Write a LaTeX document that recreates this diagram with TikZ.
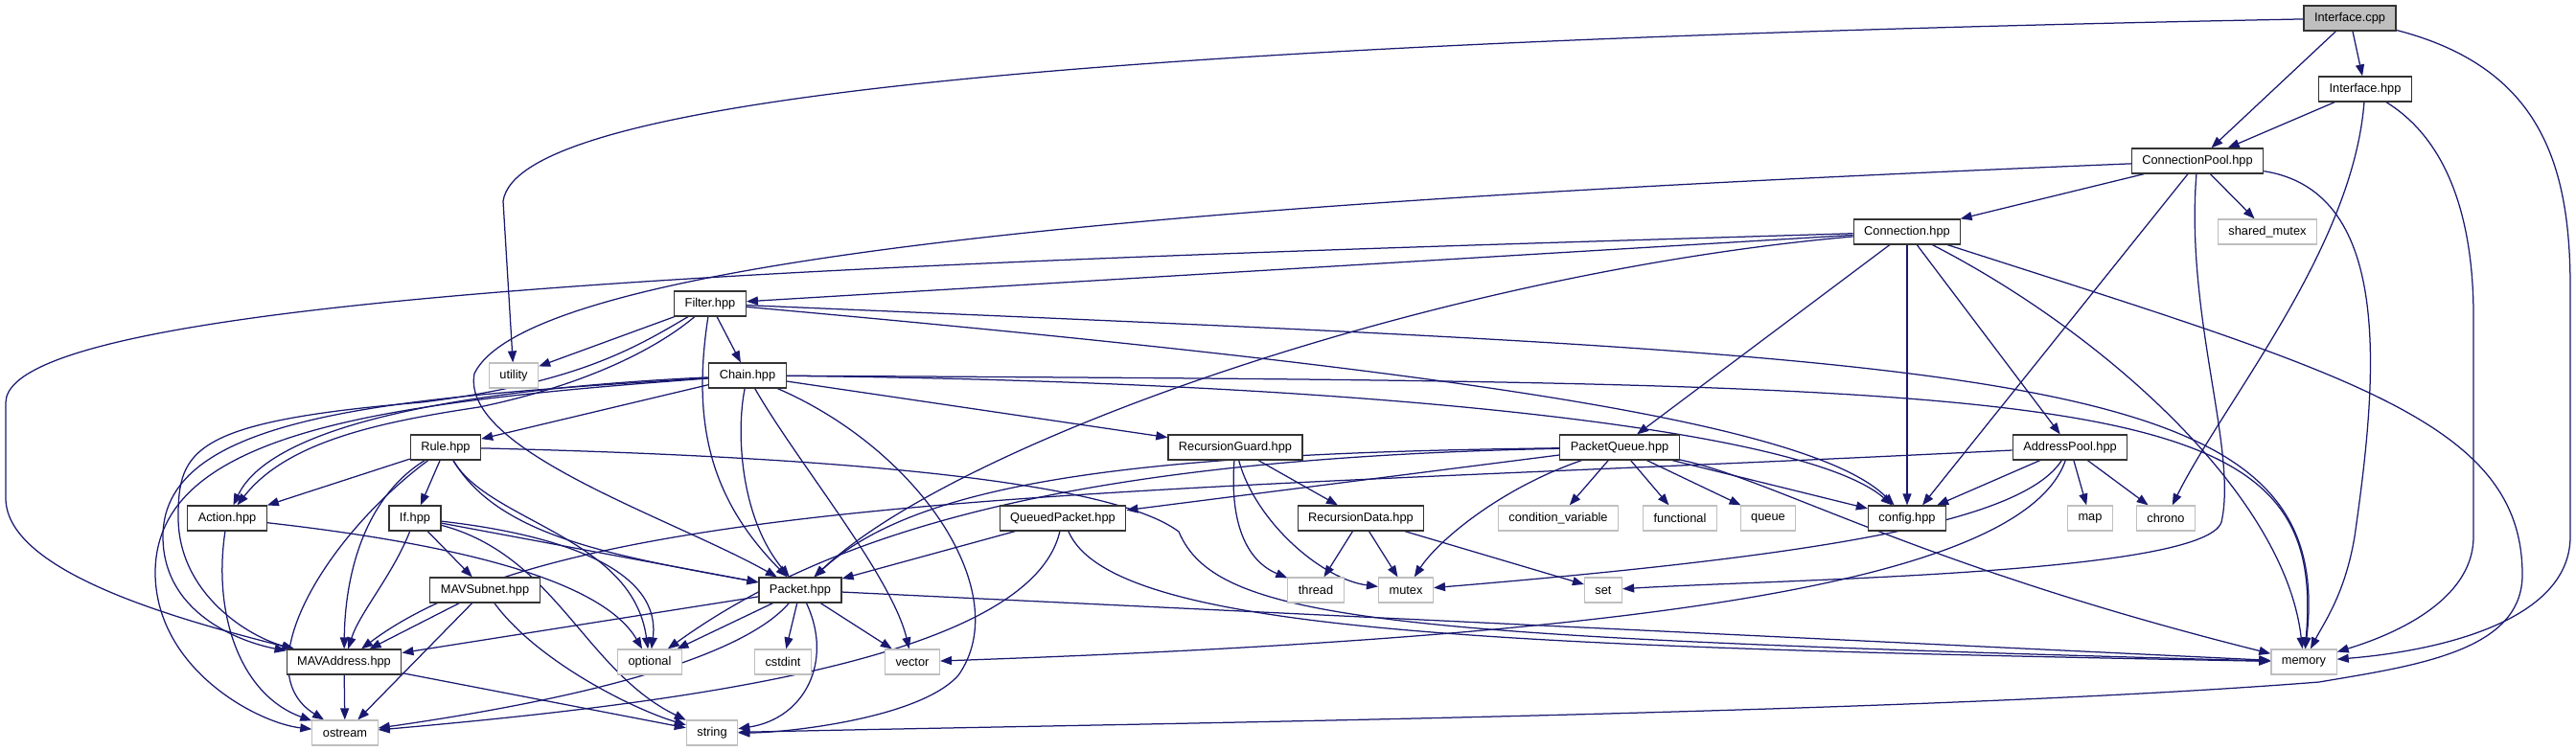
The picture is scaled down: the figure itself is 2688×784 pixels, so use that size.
\documentclass[tikz,border=0pt]{standalone}
\usepackage{fontspec}
\setsansfont{Liberation Sans}
\usepackage{tikz}
\usetikzlibrary{arrows.meta,backgrounds}
\definecolor{depblue}{HTML}{191970}
\definecolor{extgray}{HTML}{BFBFBF}

\begin{document}
\begin{tikzpicture}[
  x=1pt, y=-1pt,
  font=\sffamily\fontsize{12.8}{14}\selectfont,
  hdr/.style={
    rectangle, draw=black!80, fill=white, line width=1.2pt,
    minimum height=26pt, inner xsep=11pt, inner ysep=0pt
  },
  sys/.style={hdr, draw=extgray},
  root/.style={hdr, fill=extgray},
  dep/.style={-{Triangle[length=12pt,width=9pt]}, line width=1.25pt, depblue}
]
\useasboundingbox (0,0) rectangle (2688,784);

% --- project headers ---
\node[root] (cpp)       at (2452,19)  {Interface.cpp};
\node[hdr]  (ihpp)      at (2468,93)  {Interface.hpp};
\node[hdr]  (cpool)     at (2293,168) {ConnectionPool.hpp};
\node[hdr]  (conn)      at (1990,242) {Connection.hpp};
\node[hdr]  (filter)    at (741,317)  {Filter.hpp};
\node[hdr]  (chain)     at (780,392)  {Chain.hpp};
\node[hdr]  (rule)      at (465,467)  {Rule.hpp};
\node[hdr]  (rguard)    at (1289,467) {RecursionGuard.hpp};
\node[hdr]  (pqueue)    at (1690,467) {PacketQueue.hpp};
\node[hdr]  (apool)     at (2160,467) {AddressPool.hpp};
\node[hdr]  (action)    at (237,541)  {Action.hpp};
\node[hdr]  (ifh)       at (433,541)  {If.hpp};
\node[hdr]  (qpacket)   at (1109,541) {QueuedPacket.hpp};
\node[hdr]  (rdata)     at (1420,541) {RecursionData.hpp};
\node[hdr]  (config)    at (1990,541) {config.hpp};
\node[hdr]  (mavsubnet) at (506,616)  {MAVSubnet.hpp};
\node[hdr]  (packet)    at (835,616)  {Packet.hpp};
\node[hdr]  (mavaddr)   at (359,691)  {MAVAddress.hpp};

% --- system headers ---
\node[sys] (shmutex)    at (2366,242) {shared\_mutex};
\node[sys] (utility)    at (536,392)  {utility};
\node[sys] (condvar)    at (1626,541) {condition\_variable};
\node[sys] (functional) at (1753,541) {functional};
\node[sys] (queue)      at (1845,541) {queue};
\node[sys] (map)        at (2181,541) {map};
\node[sys] (chrono)     at (2260,541) {chrono};
\node[sys] (thread)     at (1373,616) {thread};
\node[sys] (mutex)      at (1467,616) {mutex};
\node[sys] (set)        at (1673,616) {set};
\node[sys] (optional)   at (678,691)  {optional};
\node[sys] (cstdint)    at (817,691)  {cstdint};
\node[sys] (vector)     at (952,691)  {vector};
\node[sys] (memory)     at (2404,691) {memory};
\node[sys] (ostream)    at (360,765)  {ostream};
\node[sys] (string)     at (743,765)  {string};

\begin{scope}[on background layer]
% --- straight includes ---
\foreach \from/\to in {cpp/ihpp, cpp/cpool, ihpp/cpool, cpool/conn, cpool/shmutex,
    conn/filter, conn/pqueue, conn/config, conn/apool, filter/utility, filter/chain,
    chain/rule, chain/rguard, rule/action, rule/ifh, ifh/mavsubnet, ifh/packet,
    mavsubnet/mavaddr, mavsubnet/ostream, mavaddr/ostream, mavaddr/string,
    packet/mavaddr, packet/optional, packet/cstdint, packet/vector, packet/memory,
    qpacket/packet, pqueue/qpacket, pqueue/condvar, pqueue/functional, pqueue/queue,
    pqueue/config, apool/config, apool/map, apool/chrono, rguard/rdata,
    rdata/thread, rdata/mutex, rdata/set}
  \draw[dep] (\from) -- (\to);

% --- Interface.cpp / Interface.hpp ---
\draw[dep] (cpp) .. controls (1100,45) and (540,105) .. (525,210) -- (utility);
\draw[dep] (cpp) .. controls (2650,70) and (2682,170) .. (2682,300) -- (2682,560)
  .. controls (2682,650) and (2540,680) .. (memory);
\draw[dep] (ihpp) .. controls (2455,260) and (2320,420) .. (chrono);
\draw[dep] (ihpp) .. controls (2560,150) and (2581,240) .. (2581,330) -- (2581,560)
  .. controls (2581,630) and (2490,665) .. (memory);

% --- ConnectionPool.hpp ---
\draw[dep] (cpool) .. controls (1400,205) and (560,255) .. (495,390)
  .. controls (480,470) and (700,540) .. (packet);
\draw[dep] ([xshift=-10pt]cpool.south) -- ([xshift=16pt]config.north);
\draw[dep] (cpool) .. controls (2280,330) and (2335,470) .. (2318,545)
  .. controls (2300,600) and (1850,605) .. (set);
\draw[dep] (cpool) .. controls (2500,200) and (2480,400) .. (2457,560)
  .. controls (2447,620) and (2425,650) .. (memory);

% --- Connection.hpp ---
\draw[dep] (conn) .. controls (1000,272) and (8,300) .. (6,420) -- (6,520)
  .. controls (6,600) and (200,650) .. (mavaddr);
\draw[dep] (conn) .. controls (1500,285) and (1000,460) .. (packet);
\draw[dep] (conn) .. controls (2200,350) and (2385,520) .. (memory);
\draw[dep] (conn) .. controls (2450,390) and (2632,440) .. (2632,600)
  .. controls (2632,680) and (2520,695) .. (2420,712)
  .. controls (2000,745) and (1200,755) .. (string);

% --- Filter.hpp ---
\draw[dep] (filter) .. controls (690,360) and (620,400) .. (500,425)
  .. controls (400,440) and (300,460) .. (action);
\draw[dep] (filter) .. controls (660,365) and (600,400) .. (440,420)
  .. controls (200,440) and (186,470) .. (186,540)
  .. controls (186,620) and (260,665) .. (mavaddr);
\draw[dep] (filter) .. controls (722,440) and (740,520) .. (packet);
\draw[dep] (filter) .. controls (1500,385) and (1890,440) .. (config);
\draw[dep] (filter) .. controls (2100,375) and (2440,380) .. (memory);

% --- Chain.hpp ---
\draw[dep] (chain) .. controls (500,405) and (285,440) .. (action);
\draw[dep] (chain) .. controls (420,415) and (170,430) .. (170,560)
  .. controls (170,640) and (250,670) .. (mavaddr);
\draw[dep] (chain) .. controls (400,420) and (160,450) .. (162,600)
  .. controls (164,700) and (270,755) .. (ostream);
\draw[dep] (chain) .. controls (768,450) and (772,540) .. (packet);
\draw[dep] (chain) .. controls (830,480) and (930,600) .. (vector);
\draw[dep] (chain) .. controls (960,470) and (1060,620) .. (1000,705)
  .. controls (960,750) and (820,765) .. (string);
\draw[dep] (chain) .. controls (1400,398) and (1880,445) .. (config);
\draw[dep] (chain) .. controls (2200,400) and (2430,400) .. (memory);

% --- Rule.hpp / If.hpp / Action.hpp ---
\draw[dep] (rule) .. controls (340,560) and (255,700) .. (ostream);
\draw[dep] (rule) .. controls (380,520) and (360,600) .. (mavaddr);
\draw[dep] (rule) .. controls (520,560) and (640,580) .. (packet);
\draw[dep] (rule) .. controls (510,545) and (660,560) .. (optional);
\draw[dep] (rule) .. controls (800,475) and (1150,495) .. (1230,555)
  .. controls (1270,650) and (1450,665) .. (memory);
\draw[dep] (ifh) .. controls (410,600) and (375,640) .. (mavaddr);
\draw[dep] (ifh) .. controls (600,560) and (690,600) .. (optional);
\draw[dep] (ifh) .. controls (580,580) and (610,700) .. (string);
\draw[dep] (action) .. controls (222,640) and (250,725) .. (ostream);
\draw[dep] (action) .. controls (450,565) and (625,600) .. (optional);
\draw[dep] (mavsubnet) .. controls (560,690) and (660,740) .. (string);

% --- Packet.hpp / QueuedPacket.hpp ---
\draw[dep] (packet) .. controls (780,680) and (640,725) .. (ostream);
\draw[dep] (packet) .. controls (870,690) and (840,750) .. (string);
\draw[dep] (qpacket) .. controls (1075,690) and (700,735) .. (ostream);
\draw[dep] (qpacket) .. controls (1160,660) and (1550,675) .. (memory);

% --- PacketQueue.hpp ---
\draw[dep] (pqueue) .. controls (1200,473) and (960,500) .. (packet);
\draw[dep] (pqueue) .. controls (1150,478) and (880,545) .. (optional);
\draw[dep] (pqueue) .. controls (1565,510) and (1500,565) .. (mutex);
\draw[dep] (pqueue) .. controls (1850,500) and (2000,590) .. (memory);

% --- AddressPool.hpp ---
\draw[dep] (apool) .. controls (1200,515) and (600,510) .. (mavaddr);
\draw[dep] (apool) .. controls (2110,545) and (1900,580) .. (mutex);
\draw[dep] (apool) .. controls (2110,610) and (1700,665) .. (vector);

% --- RecursionGuard.hpp ---
\draw[dep] (rguard) .. controls (1283,545) and (1300,585) .. (thread);
\draw[dep] (rguard) .. controls (1310,545) and (1380,605) .. (mutex);
\end{scope}

\end{tikzpicture}
\end{document}
